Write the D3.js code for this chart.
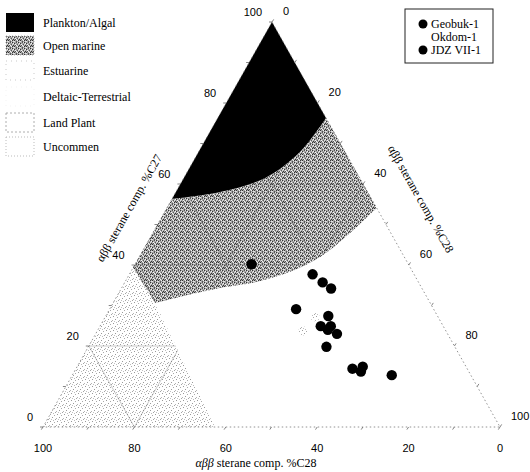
<!DOCTYPE html>
<html>
<head>
<meta charset="utf-8">
<script src="https://cdn.jsdelivr.net/npm/d3@7"></script>
<style>
  body { margin: 0; background: #fff; }
</style>
</head>
<body>
<svg id="chart" width="530" height="472"></svg>
<script>
// ---- data: [C27, C28] in %, C29 is the rest ----
const geobuk = [[37.7, 40.1], [35.7, 43.3], [34.2, 45.9], [29.1, 40.8], [27.4, 48.7],
                [24.9, 48.3], [24.9, 50.5], [24.0, 50.3], [23.0, 52.8], [19.8, 52.1]];
const okdom  = [[27.2, 45.9], [23.7, 45.0]];
const jdz    = [[40.2, 25.5], [14.4, 60.5], [14.9, 62.5], [13.7, 62.7], [12.8, 69.9]];

// zone boundaries (ternary coords)
const planktonEdge = [[56.3, 0], [58.0, 9.7], [61.5, 17.8], [67.9, 22.2], [76.3, 23.7]];
const marineEdge   = [[30.6, 9.2], [34.3, 21.5], [35.6, 28.1], [38.0, 34.3], [42.0, 39.6], [48.6, 43.5], [54.1, 45.9]];
const marineLeft   = [39.3, 0];
const landBottom   = [0, 37.6];

const tickLabels = [0, 20, 40, 60, 80, 100];
const minorTicks = [10, 30, 50, 70, 90];
const gridValues = [20, 40, 60, 80];

const zoneLabels = ['Plankton/Algal', 'Open marine', 'Estuarine', 'Deltaic-Terrestrial', 'Land Plant', 'Uncommen'];
const wellLabels = ['Geobuk-1', 'Okdom-1', 'JDZ VII-1'];

// ---- geometry ----
const APEX = { x: 272, y: 22 }, BL = { x: 43, y: 427 }, BR = { x: 500, y: 427 };

const yC27   = d3.scaleLinear().domain([0, 100]).range([BL.y, APEX.y]);
const xShift = d3.scaleLinear().domain([0, 100]).range([0, APEX.x - BL.x]);
const xC28   = d3.scaleLinear().domain([0, 100]).range([BL.x, BR.x]);
const proj = d => [xC28(d[1]) + xShift(d[0]), yC27(d[0])];
const pt = d => proj(d).map(v => v.toFixed(2)).join(',');

const svg = d3.select('#chart');
svg.append('rect').attr('width', 530).attr('height', 472).attr('fill', '#fff');

// ---- textures (stipple) ----
const defs = svg.append('defs');
const pm = defs.append('pattern').attr('id', 'marine')
  .attr('patternUnits', 'userSpaceOnUse').attr('width', 6).attr('height', 6);
pm.append('rect').attr('width', 6).attr('height', 6).attr('fill', '#a6a6a6');
[[0, 0], [4, 0], [2, 1], [5, 2], [1, 3], [3, 3], [0, 4], [4, 5], [2, 4]]
  .forEach(([x, y], i) => pm.append('rect').attr('x', x).attr('y', y).attr('width', 1).attr('height', 1)
    .attr('fill', i % 2 ? '#555' : '#333'));
[[1, 1], [5, 0], [3, 2], [0, 2], [4, 3], [2, 5], [5, 4], [1, 5]]
  .forEach(([x, y], i) => pm.append('rect').attr('x', x).attr('y', y).attr('width', 1).attr('height', 1)
    .attr('fill', i % 2 ? '#e2e2e2' : '#f6f6f6'));

const pl = defs.append('pattern').attr('id', 'land')
  .attr('patternUnits', 'userSpaceOnUse').attr('width', 7).attr('height', 7);
pl.append('rect').attr('width', 7).attr('height', 7).attr('fill', '#fff');
[[1, 1, '#999'], [5, 2, '#aaa'], [3, 4, '#9a9a9a'], [0, 5, '#b5b5b5'], [6, 6, '#a5a5a5'], [2, 6, '#c0c0c0'], [4, 0, '#bbb']]
  .forEach(([x, y, c]) => pl.append('rect').attr('x', x).attr('y', y).attr('width', 1).attr('height', 1).attr('fill', c));

// ---- zones ----
const curve = d3.line().x(d => proj(d)[0]).y(d => proj(d)[1]).curve(d3.curveCatmullRom.alpha(0.5));
const R1 = planktonEdge[planktonEdge.length - 1];

const planktonD = curve(planktonEdge) + 'L' + pt([100, 0]) + 'Z';
const marineD = curve(marineEdge) + 'L' + pt(R1) +
  curve(planktonEdge.slice().reverse()).replace(/^M/, 'L') + 'L' + pt(marineLeft) + 'Z';
const landD = 'M' + pt(marineLeft) + 'L' + pt([0, 0]) + 'L' + pt(landBottom) + 'L' + pt(marineEdge[0]) + 'Z';

const clip = defs.append('clipPath').attr('id', 'zones');
[marineD, landD].forEach(d => clip.append('path').attr('d', d));

svg.append('path').attr('d', landD).attr('fill', 'url(#land)');
svg.append('path').attr('d', marineD).attr('fill', 'url(#marine)');

// ---- grid (only visible inside the stippled zones) ----
const grid = svg.append('g').attr('clip-path', 'url(#zones)')
  .attr('stroke', '#555').attr('stroke-opacity', 0.45).attr('stroke-width', 0.7).attr('fill', 'none');
gridValues.forEach(v => {
  grid.append('line').attr('x1', proj([v, 0])[0]).attr('y1', proj([v, 0])[1])
    .attr('x2', proj([v, 100 - v])[0]).attr('y2', proj([v, 100 - v])[1]);
  grid.append('line').attr('x1', proj([0, v])[0]).attr('y1', proj([0, v])[1])
    .attr('x2', proj([100 - v, v])[0]).attr('y2', proj([100 - v, v])[1]);
  grid.append('line').attr('x1', proj([0, 100 - v])[0]).attr('y1', proj([0, 100 - v])[1])
    .attr('x2', proj([100 - v, 0])[0]).attr('y2', proj([100 - v, 0])[1]);
});

svg.append('path').attr('d', planktonD).attr('fill', '#000');

// ---- triangle frame ----
svg.append('path')
  .attr('d', 'M' + pt([100, 0]) + 'L' + pt([0, 0]) + 'L' + pt([0, 100]) + 'Z')
  .attr('fill', 'none').attr('stroke', '#777').attr('stroke-width', 0.8).attr('stroke-dasharray', '1.5,2.5');

// ---- ticks ----
const ticks = svg.append('g').attr('stroke', '#666').attr('stroke-width', 0.8);
tickLabels.concat(minorTicks).forEach(v => {
  const l = proj([v, 0]);            // left edge, outward horizontally
  ticks.append('line').attr('x1', l[0]).attr('y1', l[1]).attr('x2', l[0] - 3).attr('y2', l[1]);
  const r = proj([100 - v, v]);      // right edge, outward up-right
  ticks.append('line').attr('x1', r[0]).attr('y1', r[1]).attr('x2', r[0] + 1.7).attr('y2', r[1] - 2.6);
  const b = proj([0, 100 - v]);      // bottom edge, outward down-left
  ticks.append('line').attr('x1', b[0]).attr('y1', b[1]).attr('x2', b[0] - 1.7).attr('y2', b[1] + 2.6);
});

// ---- tick labels ----
const num = svg.append('g').attr('font-family', 'Liberation Sans, Arial, sans-serif')
  .attr('font-size', 11).attr('fill', '#000');
tickLabels.forEach(v => {
  const l = proj([v, 0]);
  num.append('text').attr('x', l[0] - 10).attr('y', l[1] - 10).attr('dy', '0.35em')
    .attr('text-anchor', 'end').text(v);
  const r = proj([100 - v, v]);
  num.append('text').attr('x', r[0] + 11).attr('y', r[1] - 11).attr('dy', '0.35em')
    .attr('text-anchor', 'start').text(v);
  const b = proj([0, 100 - v]);
  num.append('text').attr('x', b[0]).attr('y', b[1] + 21).attr('dy', '0.35em')
    .attr('text-anchor', 'middle').text(v);
});

// ---- axis titles ----
const serif = 'Liberation Serif, Times New Roman, serif';
svg.append('text').attr('transform', 'translate(129,208) rotate(-60.5)')
  .attr('font-family', serif).attr('font-size', 12).attr('text-anchor', 'middle').attr('dy', '0.35em')
  .text('αββ sterane comp. %C27');
svg.append('text').attr('transform', 'translate(421,199) rotate(60.5)')
  .attr('font-family', serif).attr('font-size', 12).attr('text-anchor', 'middle').attr('dy', '0.35em')
  .text('αββ sterane comp. %C28');
const bt = svg.append('text').attr('x', 256).attr('y', 463).attr('dy', '0.35em')
  .attr('font-family', serif).attr('font-size', 12).attr('text-anchor', 'middle');
bt.append('tspan').attr('font-style', 'italic').text('αββ');
bt.append('tspan').text(' sterane comp. %C28');

// ---- samples ----
const dots = svg.append('g');
dots.selectAll('.ok').data(okdom).join('circle').attr('class', 'ok')
  .attr('cx', d => proj(d)[0]).attr('cy', d => proj(d)[1]).attr('r', 4.5)
  .attr('fill', 'url(#land)');
dots.selectAll('.sample').data(geobuk.concat(jdz)).join('circle').attr('class', 'sample')
  .attr('cx', d => proj(d)[0]).attr('cy', d => proj(d)[1]).attr('r', 5.2)
  .attr('fill', '#000');

// ---- zone legend ----
const boxStyles = [
  { fill: '#000', stroke: 'none', dash: null },
  { fill: 'url(#marine)', stroke: '#999', dash: '1,2' },
  { fill: '#fff', stroke: '#bbb', dash: '1,4' },
  { fill: '#fff', stroke: '#f0f0f0', dash: '1,4' },
  { fill: '#fff', stroke: '#999', dash: '2,2' },
  { fill: '#fff', stroke: '#aaa', dash: '1,2' }
];
const legY = [23, 46, 71, 97, 123, 147];
const zl = svg.append('g');
zoneLabels.forEach((t, i) => {
  const s = boxStyles[i];
  zl.append('rect').attr('x', 6).attr('y', legY[i] - 10).attr('width', 28).attr('height', 19)
    .attr('fill', s.fill).attr('stroke', s.stroke).attr('stroke-width', 0.8)
    .attr('stroke-dasharray', s.dash);
  zl.append('text').attr('x', 43).attr('y', legY[i]).attr('dy', '0.35em')
    .attr('font-family', serif).attr('font-size', 12).text(t);
});

// ---- well legend ----
const wl = svg.append('g');
wl.append('rect').attr('x', 405).attr('y', 9).attr('width', 88).attr('height', 54)
  .attr('fill', '#fff').attr('stroke', '#222').attr('stroke-width', 1);
const wellY = [24, 37, 50];
const wellDot = [true, false, true];
wellLabels.forEach((t, i) => {
  if (wellDot[i]) wl.append('circle').attr('cx', 423).attr('cy', wellY[i]).attr('r', 4.5).attr('fill', '#000');
  wl.append('text').attr('x', 431).attr('y', wellY[i]).attr('dy', '0.32em')
    .attr('font-family', serif).attr('font-size', 12).text(t);
});
</script>
</body>
</html>
